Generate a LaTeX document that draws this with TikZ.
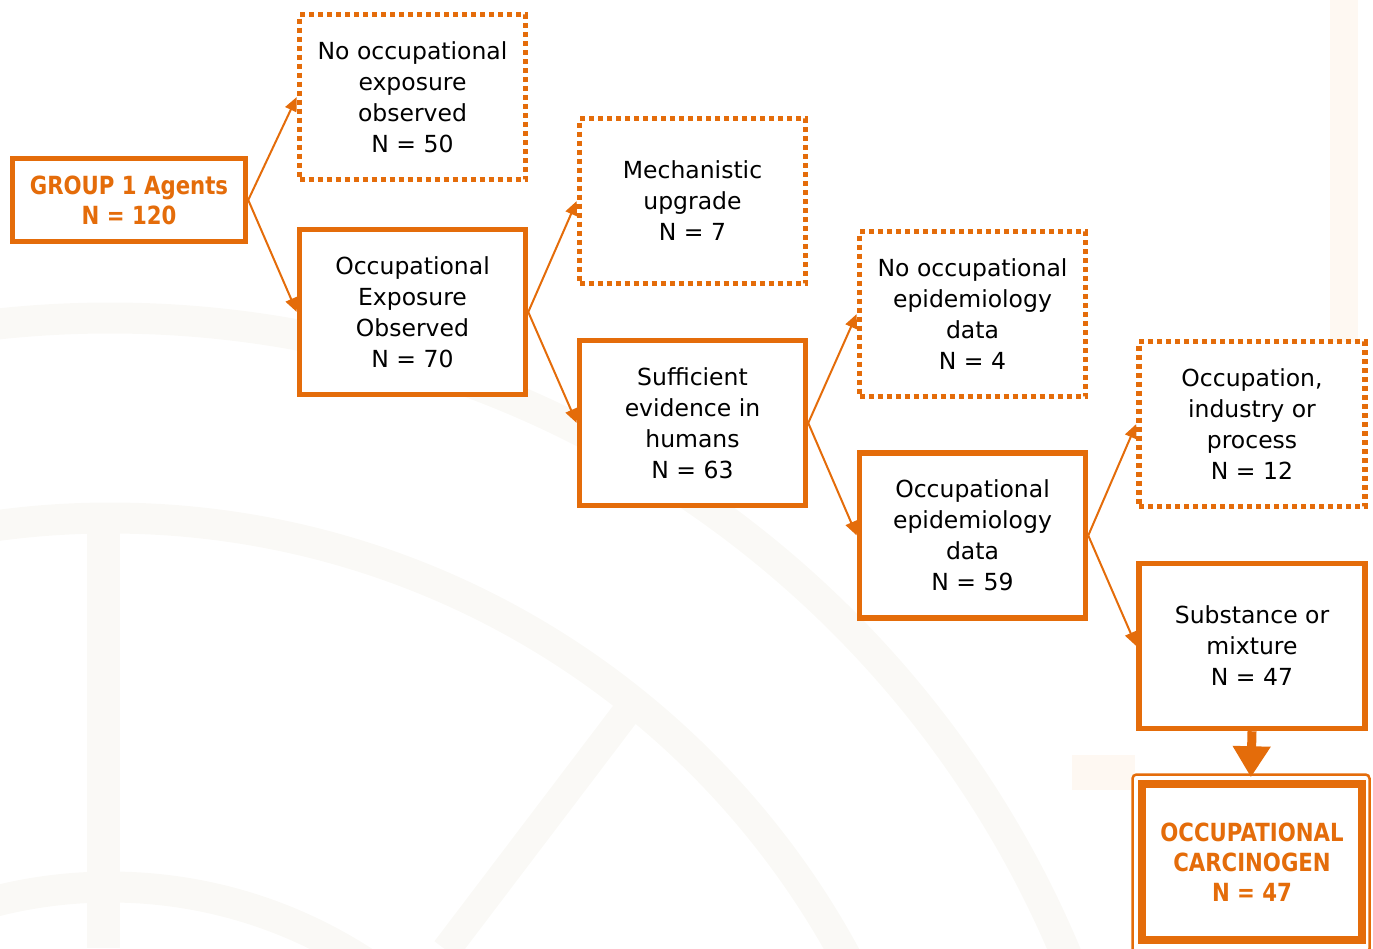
\documentclass[tikz,border=0pt]{standalone}
\usepackage{fontspec}
\setmainfont{DejaVu Sans}
\newfontfamily\boldfont{DejaVu Sans Bold}[FakeStretch=0.85]
\usetikzlibrary{arrows.meta}
\definecolor{org}{RGB}{228,108,10}
\definecolor{wm}{RGB}{250,249,246}
\definecolor{wmo}{RGB}{254,248,242}
\begin{document}
\begin{tikzpicture}[x=1pt,y=-1pt,
  box/.style={draw=org, line width=5.5pt, fill=white, align=center, text=black,
    font=\fontsize{23.5}{31}\selectfont, minimum width=226pt, minimum height=165pt, inner sep=0pt},
  dotbox/.style={box, dash pattern=on 5pt off 4pt},
  titlebox/.style={draw=org, line width=5.5pt, fill=white, align=center, text=org,
    font=\boldfont\fontsize{25}{30}\selectfont, inner sep=0pt},
  conn/.style={draw=org, line width=2pt, -{Triangle[length=14pt,width=12pt]}},
  bigarrow/.style={draw=org, line width=9pt, -{Triangle[length=31pt 0 0,width=36pt 0 0]}},
  band/.style={draw=wm, line width=31pt}
]
\useasboundingbox (0,0) rectangle (1373,948);
% faint watermark
\begin{scope}
  \clip (0,0) rectangle (1373,948);
  \draw[band] (110,1354) circle[radius=1036pt];
  \draw[band] (110,1354) circle[radius=836pt];
  \draw[band] (110,1354) circle[radius=467pt];
  \draw[band, line width=33pt] (103,533) -- (103,948);
  \draw[band, line width=29pt] (625,714) -- (446,950);
  \fill[wmo] (1330,0) rectangle (1358,350);
  \fill[wmo] (1072,755) rectangle (1135,790);
\end{scope}

\node[titlebox, minimum width=233pt, minimum height=83pt] (g) at (129,200) {GROUP 1 Agents\\N = 120};

\node[dotbox] (n2) at (412.5,97) {No occupational\\exposure\\observed\\N = 50};
\node[box]    (n3) at (412.5,312) {Occupational\\Exposure\\Observed\\N = 70};
\node[dotbox] (n4) at (692.5,201) {Mechanistic\\upgrade\\N = 7};
\node[box]    (n5) at (692.5,423) {Sufficient\\evidence in\\humans\\N = 63};
\node[dotbox] (n6) at (972.5,314) {No occupational\\epidemiology\\data\\N = 4};
\node[box]    (n7) at (972.5,535.5) {Occupational\\epidemiology\\data\\N = 59};
\node[dotbox] (n8) at (1252,424) {Occupation,\\industry or\\process\\N = 12};
\node[box]    (n9) at (1252,646) {Substance or\\mixture\\N = 47};

\node[draw=org, line width=2.5pt, rounded corners=4pt, fill=white,
  minimum width=237pt, minimum height=178pt, inner sep=0pt] (frame) at (1251,863.5) {};
\node[titlebox, line width=8pt, minimum width=220pt, minimum height=156pt] (n10) at (1252,862)
  {OCCUPATIONAL\\CARCINOGEN\\N = 47};

\draw[conn] (g.east) -- (n2.west);
\draw[conn] (g.east) -- (n3.west);
\draw[conn] (n3.east) -- (n4.west);
\draw[conn] (n3.east) -- (n5.west);
\draw[conn] (n5.east) -- (n6.west);
\draw[conn] (n5.east) -- (n7.west);
\draw[conn] (n7.east) -- (n8.west);
\draw[conn] (n7.east) -- (n9.west);
\draw[bigarrow, shorten >=-4pt] (n9.south) -- (frame.north);
\end{tikzpicture}
\end{document}
